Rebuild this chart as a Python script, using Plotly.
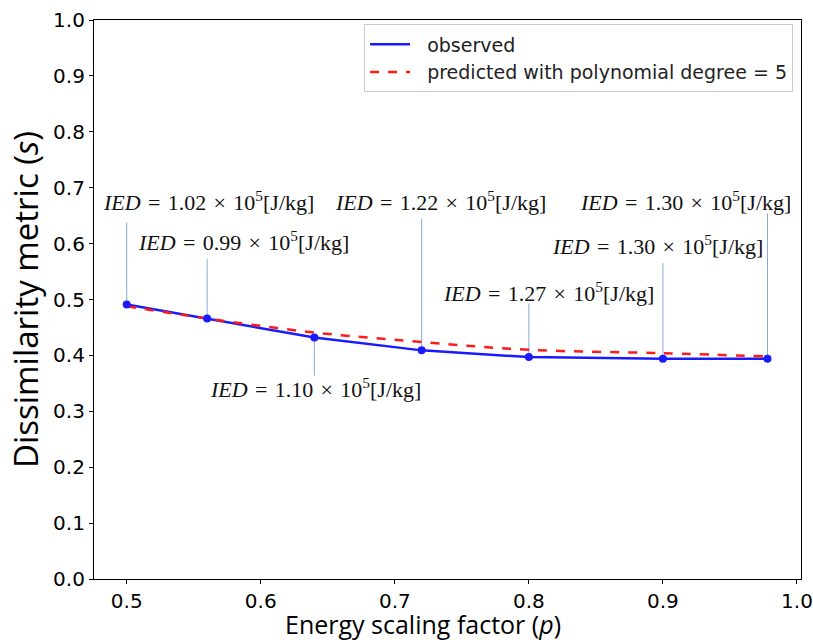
import plotly.graph_objects as go

# ---- data ----
p_values = [0.5, 0.56, 0.64, 0.72, 0.8, 0.9, 0.978]
observed = [0.491, 0.466, 0.432, 0.409, 0.397, 0.394, 0.394]
predicted = [0.488, 0.466, 0.441, 0.424, 0.410, 0.404, 0.398]
ied_values = ["1.02", "0.99", "1.10", "1.22", "1.27", "1.30", "1.30"]

x_ticks = [0.5, 0.6, 0.7, 0.8, 0.9, 1.0]
y_ticks = [0.0, 0.1, 0.2, 0.3, 0.4, 0.5, 0.6, 0.7, 0.8, 0.9, 1.0]

# ---- layout helpers (label placement) ----
label_x = [0.561, 0.587, 0.641, 0.734, 0.815, 0.896, 0.917]
label_y = [0.677, 0.604, 0.342, 0.677, 0.514, 0.597, 0.677]
stem_end = [0.638, 0.573, 0.364, 0.645, 0.493, 0.565, 0.654]

BLUE = "#1a1aff"
RED = "#ff1a1a"
PAD = "\u00a0\u00a0"
HS = "\u200a"

fig = go.Figure()

fig.add_trace(go.Scatter(
    x=p_values, y=observed, mode="lines", name=PAD + "observed",
    line=dict(color=BLUE, width=2.5),
))
fig.add_trace(go.Scatter(
    x=p_values, y=predicted, mode="lines", name=PAD + "predicted with polynomial degree = 5",
    line=dict(color=RED, width=2.5, dash="dash", shape="spline"),
))
fig.add_trace(go.Scatter(
    x=p_values, y=observed, mode="markers", showlegend=False,
    marker=dict(color=BLUE, size=8),
))

shapes = []
annotations = []
for px, py, ly, lx, lyy, v in zip(p_values, observed, stem_end, label_x, label_y, ied_values):
    shapes.append(dict(type="line", xref="x", yref="y", x0=px, x1=px, y0=py, y1=ly,
                       line=dict(color="rgba(100,140,200,0.75)", width=1), layer="below"))
    annotations.append(dict(
        x=lx, y=lyy, xref="x", yref="y", showarrow=False,
        text=f"<i>IED</i> {HS}={HS} {v} {HS}×{HS} 10<sup>5</sup>[J/kg]",
        font=dict(family="Liberation Serif, DejaVu Serif, serif", size=22, color="#111111"),
        xanchor="center", yanchor="middle",
    ))

annotations.append(dict(
    x=0.465, y=0, xref="paper", yref="paper", yshift=-45, showarrow=False,
    text="Energy scaling factor (<i>p</i>)", xanchor="center", yanchor="middle",
    font=dict(family="Open Sans, DejaVu Sans", size=25, color="black"),
))

fig.update_layout(
    width=813, height=640,
    margin=dict(l=94, r=12, t=20, b=61, autoexpand=False),
    paper_bgcolor="white", plot_bgcolor="white",
    shapes=shapes, annotations=annotations,
    showlegend=True,
    legend=dict(
        x=0.382, y=0.992, xanchor="left", yanchor="top",
        bgcolor="rgba(255,255,255,0.9)", bordercolor="#cccccc", borderwidth=1,
        font=dict(family="DejaVu Sans", size=19, color="#222222"),
        itemwidth=40, tracegroupgap=0,
    ),
    xaxis=dict(
        range=[0.4756, 1.003], tickvals=x_ticks, tickformat=".1f",
        showgrid=False, zeroline=False, automargin=False,
        showline=True, linecolor="black", linewidth=1.2, mirror=True,
        ticks="outside", ticklen=4, tickcolor="black",
        ticklabeloverflow="allow",
        tickfont=dict(family="DejaVu Sans", size=20, color="black"),
    ),
    yaxis=dict(
        range=[0, 1.0], tickvals=y_ticks, tickformat=".1f",
        showgrid=False, zeroline=False, automargin=False,
        showline=True, linecolor="black", linewidth=1.2, mirror=True,
        ticks="outside", ticklen=4, tickcolor="black",
        tickfont=dict(family="DejaVu Sans", size=20, color="black"),
        title=dict(text="Dissimilarity metric (<i>s</i>)", standoff=4,
                   font=dict(family="Open Sans, DejaVu Sans", size=33, color="black")),
    ),
)

fig.write_html("out.html")
